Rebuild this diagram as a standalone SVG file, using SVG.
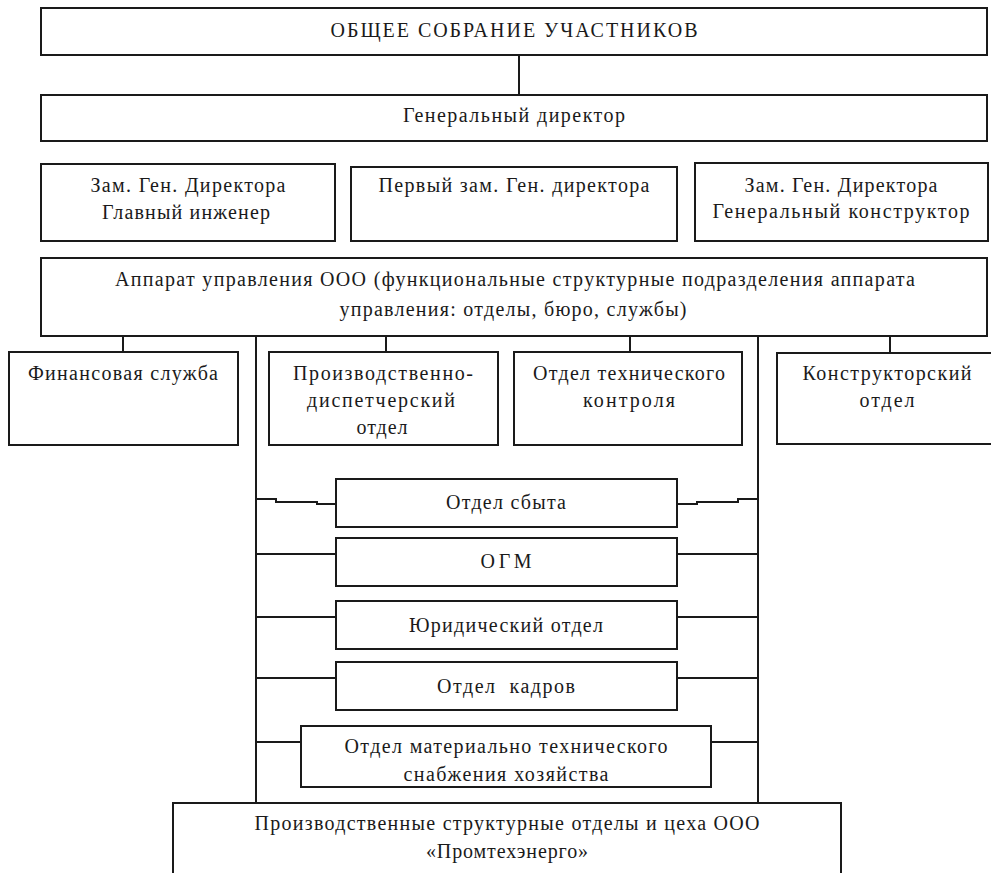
<svg xmlns="http://www.w3.org/2000/svg" width="991" height="873" viewBox="0 0 991 873">
<style>
.b{fill:#fff;stroke:#1a1a1a;stroke-width:2}
.c{fill:none;stroke:#1a1a1a;stroke-width:2}
text{font-family:"Liberation Serif","Times New Roman","DejaVu Serif",serif;font-size:20px;fill:#1a1a1a;text-anchor:middle}
</style>
<rect width="991" height="873" fill="#fff"/>
<g id="connectors">
<line class="c" x1="519" y1="55" x2="519" y2="95"/>
<line class="c" x1="123" y1="336" x2="123" y2="352"/>
<line class="c" x1="386" y1="336" x2="386" y2="352"/>
<line class="c" x1="630" y1="336" x2="630" y2="352"/>
<line class="c" x1="890" y1="336" x2="890" y2="353"/>
<line class="c" x1="256" y1="336" x2="256" y2="803"/>
<line class="c" x1="758" y1="336" x2="758" y2="803"/>
<polyline class="c" points="256,499 276,499 276,502 317,502 317,504 336,504"/>
<polyline class="c" points="677,504 697,504 697,502 738,502 738,499 758,499"/>
<line class="c" x1="256" y1="554" x2="336" y2="554"/>
<line class="c" x1="677" y1="554" x2="758" y2="554"/>
<line class="c" x1="256" y1="617" x2="336" y2="617"/>
<line class="c" x1="677" y1="617" x2="758" y2="617"/>
<line class="c" x1="256" y1="678" x2="336" y2="678"/>
<line class="c" x1="677" y1="678" x2="758" y2="678"/>
<line class="c" x1="256" y1="742" x2="301" y2="742"/>
<line class="c" x1="711" y1="742" x2="758" y2="742"/>
</g>
<g id="n-sobranie"><rect class="b" x="41" y="8" width="946" height="47"/><text x="514" y="37" textLength="367" lengthAdjust="spacing">ОБЩЕЕ СОБРАНИЕ УЧАСТНИКОВ</text></g>
<g id="n-gendir"><rect class="b" x="41" y="95" width="946" height="46"/><text x="514" y="122" textLength="222" lengthAdjust="spacing">Генеральный директор</text></g>
<g id="n-zam1"><rect class="b" x="41" y="164" width="294" height="77"/><text x="188" y="192" textLength="195" lengthAdjust="spacing">Зам. Ген. Директора</text><text x="186" y="219" textLength="168" lengthAdjust="spacing">Главный инженер</text></g>
<g id="n-perv"><rect class="b" x="351" y="167" width="326" height="74"/><text x="514" y="192" textLength="271" lengthAdjust="spacing">Первый зам. Ген. директора</text></g>
<g id="n-zam2"><rect class="b" x="695" y="163" width="293" height="78"/><text x="841" y="192" textLength="193" lengthAdjust="spacing">Зам. Ген. Директора</text><text x="841" y="218" textLength="257" lengthAdjust="spacing">Генеральный конструктор</text></g>
<g id="n-apparat"><rect class="b" x="41" y="258" width="946" height="78"/><text x="515" y="286" textLength="800" lengthAdjust="spacing">Аппарат управления ООО (функциональные структурные подразделения аппарата</text><text x="513" y="316" textLength="347" lengthAdjust="spacing">управления: отделы, бюро, службы)</text></g>
<g id="n-fin"><rect class="b" x="9" y="352" width="229" height="93"/><text x="123" y="380" textLength="190" lengthAdjust="spacing">Финансовая служба</text></g>
<g id="n-pdo"><rect class="b" x="269" y="352" width="229" height="93"/><text x="383" y="380" textLength="180" lengthAdjust="spacing">Производственно-</text><text x="381" y="407" textLength="148" lengthAdjust="spacing">диспетчерский</text><text x="382" y="434" textLength="51" lengthAdjust="spacing">отдел</text></g>
<g id="n-otk"><rect class="b" x="514" y="352" width="228" height="93"/><text x="629" y="380" textLength="192" lengthAdjust="spacing">Отдел технического</text><text x="629" y="407" textLength="92" lengthAdjust="spacing">контроля</text></g>
<g id="n-kon"><rect class="b" x="777" y="353" width="220" height="91"/><text x="887" y="380" textLength="169" lengthAdjust="spacing">Конструкторский</text><text x="887" y="407" textLength="55" lengthAdjust="spacing">отдел</text></g>
<g id="n-sbyt"><rect class="b" x="336" y="479" width="341" height="48"/><text x="506" y="509" textLength="120" lengthAdjust="spacing">Отдел сбыта</text></g>
<g id="n-ogm"><rect class="b" x="336" y="538" width="341" height="48"/><text x="506" y="568" textLength="51" lengthAdjust="spacing">ОГМ</text></g>
<g id="n-yur"><rect class="b" x="336" y="601" width="341" height="48"/><text x="506" y="632" textLength="194" lengthAdjust="spacing">Юридический отдел</text></g>
<g id="n-kadr"><rect class="b" x="336" y="662" width="341" height="48"/><text x="506" y="693" textLength="138" lengthAdjust="spacing" xml:space="preserve">Отдел  кадров</text></g>
<g id="n-mts"><rect class="b" x="301" y="726" width="410" height="61"/><text x="506" y="753" textLength="323" lengthAdjust="spacing">Отдел материально технического</text><text x="506" y="781" textLength="205" lengthAdjust="spacing">снабжения хозяйства</text></g>
<g id="n-proizv"><rect class="b" x="173" y="803" width="668" height="80"/><text x="507" y="830" textLength="505" lengthAdjust="spacing">Производственные структурные отделы и цеха ООО</text><text x="507" y="858" textLength="162" lengthAdjust="spacing">«Промтехэнерго»</text></g>
</svg>
